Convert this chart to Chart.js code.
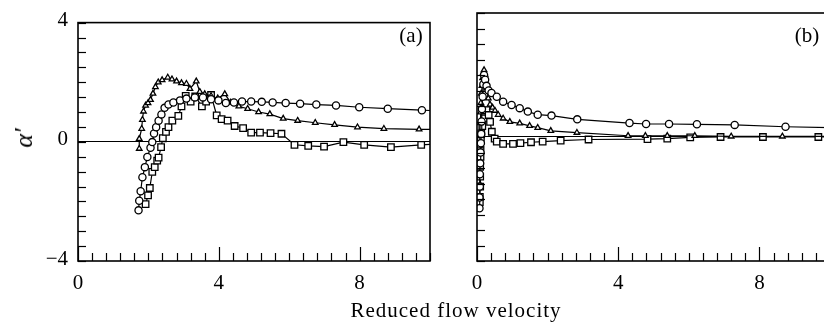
<!DOCTYPE html>
<html>
<head>
<meta charset="utf-8">
<script src="https://cdn.jsdelivr.net/npm/chart.js@4/dist/chart.umd.min.js"></script>
<style>
  html, body { margin: 0; padding: 0; background: #fff; }
  body { width: 824px; height: 327px; overflow: hidden; position: relative; }
  canvas { position: absolute; top: 0; }
  #chartA { left: 0; }
  #chartB { left: 440px; }
  .txt { position: absolute; font-family: "Liberation Serif", serif; color: #000;
         transform: translate(-50%, -50%); white-space: nowrap; }
</style>
</head>
<body>
<canvas id="chartA" width="440" height="327"></canvas>
<canvas id="chartB" width="400" height="327"></canvas>
<div class="txt" style="left:24px;top:138px;font-size:26px;font-style:italic;transform:translate(-50%,-50%) rotate(-90deg);">α′</div>
<div class="txt" style="left:411px;top:35px;font-size:21px;">(a)</div>
<div class="txt" style="left:807px;top:35px;font-size:21px;">(b)</div>
<div class="txt" style="left:456px;top:310px;font-size:21px;letter-spacing:1px;">Reduced flow velocity</div>
<script>
// axis ticks
const xLabelTicks = [0, 4, 8];
const yLabelTicks = [-4, 0, 4];

// panel (a)
const aCircleX = [1.72, 1.74, 1.78, 1.83, 1.90, 1.97, 2.06, 2.11, 2.16, 2.22, 2.29, 2.37, 2.46, 2.57, 2.71, 2.90, 3.08, 3.32, 3.55, 3.78, 3.99, 4.20, 4.43, 4.66, 4.92, 5.22, 5.53, 5.90, 6.31, 6.77, 7.33, 7.99, 8.80, 9.77, 10.8];
const aCircleY = [-2.30, -1.98, -1.66, -1.19, -0.85, -0.51, -0.20, -0.01, 0.28, 0.49, 0.71, 0.92, 1.14, 1.25, 1.32, 1.39, 1.45, 1.49, 1.49, 1.43, 1.39, 1.30, 1.32, 1.35, 1.35, 1.34, 1.32, 1.30, 1.28, 1.25, 1.22, 1.16, 1.11, 1.06, 1.02];
const aTriX = [1.74, 1.74, 1.81, 1.83, 1.86, 1.92, 1.99, 2.06, 2.13, 2.20, 2.28, 2.39, 2.55, 2.67, 2.80, 2.94, 3.08, 3.18, 3.36, 3.46, 3.60, 3.78, 3.97, 4.17, 4.34, 4.57, 4.82, 5.13, 5.45, 5.83, 6.24, 6.74, 7.29, 7.94, 8.69, 9.69, 10.8];
const aTriY = [-0.23, 0.10, 0.44, 0.74, 1.02, 1.22, 1.30, 1.41, 1.62, 1.84, 2.00, 2.07, 2.16, 2.10, 2.03, 1.97, 1.95, 1.78, 2.03, 1.68, 1.60, 1.54, 1.46, 1.60, 1.32, 1.19, 1.11, 1.00, 0.93, 0.78, 0.71, 0.64, 0.57, 0.49, 0.44, 0.42, 0.40];
const aSqX = [1.92, 1.99, 2.04, 2.11, 2.18, 2.25, 2.29, 2.36, 2.41, 2.50, 2.57, 2.68, 2.85, 2.94, 3.06, 3.20, 3.33, 3.52, 3.64, 3.78, 3.94, 4.08, 4.25, 4.45, 4.69, 4.92, 5.17, 5.47, 5.78, 6.15, 6.54, 6.99, 7.54, 8.13, 8.89, 9.75, 10.8];
const aSqY = [-2.09, -1.80, -1.55, -1.01, -0.85, -0.63, -0.53, -0.18, 0.12, 0.33, 0.49, 0.71, 0.87, 1.19, 1.54, 1.35, 1.52, 1.19, 1.35, 1.57, 0.89, 0.76, 0.71, 0.53, 0.46, 0.31, 0.31, 0.29, 0.27, -0.10, -0.14, -0.16, -0.01, -0.10, -0.18, -0.10, -0.05];

// panel (b)
const bCircleX = [0.07, 0.07, 0.08, 0.08, 0.09, 0.10, 0.11, 0.12, 0.13, 0.14, 0.16, 0.18, 0.20, 0.23, 0.27, 0.33, 0.41, 0.56, 0.74, 0.98, 1.21, 1.44, 1.72, 2.11, 2.84, 4.32, 4.79, 5.44, 6.23, 7.30, 8.74, 10.4];
const bCircleY = [-2.30, -1.95, -1.60, -1.20, -0.85, -0.50, -0.20, 0.10, 0.50, 0.90, 1.30, 1.70, 2.00, 1.85, 1.65, 1.50, 1.42, 1.30, 1.14, 1.03, 0.93, 0.82, 0.72, 0.69, 0.57, 0.45, 0.42, 0.42, 0.41, 0.39, 0.33, 0.29];
const bTriX = [0.07, 0.08, 0.09, 0.10, 0.11, 0.12, 0.14, 0.16, 0.18, 0.20, 0.23, 0.28, 0.32, 0.37, 0.44, 0.51, 0.60, 0.74, 0.93, 1.21, 1.49, 1.72, 2.09, 2.83, 4.28, 4.77, 5.39, 6.17, 7.20, 8.65, 10.4];
const bTriY = [-0.30, 0.10, 0.45, 0.80, 1.10, 1.40, 1.65, 1.90, 2.08, 2.16, 2.00, 1.57, 1.25, 1.05, 0.95, 0.85, 0.72, 0.60, 0.49, 0.44, 0.36, 0.30, 0.20, 0.14, 0.04, 0.04, 0.04, 0.04, 0.02, 0.02, 0.02];
const bSqX = [0.08, 0.08, 0.09, 0.09, 0.09, 0.10, 0.10, 0.11, 0.12, 0.15, 0.20, 0.27, 0.33, 0.37, 0.42, 0.50, 0.56, 0.74, 1.02, 1.23, 1.53, 1.86, 2.37, 3.16, 4.83, 5.39, 6.04, 6.90, 8.10, 9.67, 10.4];
const bSqY = [-2.10, -1.93, -1.60, -1.28, -0.96, -0.64, -0.42, -0.10, 0.12, 0.35, 0.60, 0.87, 0.71, 0.49, 0.17, -0.05, -0.15, -0.22, -0.22, -0.20, -0.17, -0.15, -0.12, -0.08, -0.07, -0.05, -0.01, 0.00, 0.00, 0.00, 0.00];

const FONT = { family: 'Liberation Serif', size: 21 };

function pts(xs, ys) {
    return xs.map((x, i) => ({ x: x, y: ys[i] }));
}

function series(xs, ys, style, r) {
    return {
        data: pts(xs, ys),
        showLine: true,
        borderColor: '#000',
        borderWidth: 1.2,
        pointStyle: style,
        pointRadius: r,
        pointBorderWidth: 1.3,
        pointBorderColor: '#000',
        pointBackgroundColor: '#fff'
    };
}

// inward tick marks + box frame
const framePlugin = {
    id: 'frame',
    afterDraw(chart) {
        const ctx = chart.ctx, a = chart.chartArea;
        const xs = chart.scales.x, ys = chart.scales.y;
        ctx.save();
        ctx.strokeStyle = '#000';
        ctx.lineWidth = 1.2;
        ys.ticks.forEach(t => {
            const py = Math.round(ys.getPixelForValue(t.value)) + 0.5;
            ctx.beginPath();
            ctx.moveTo(a.left, py);
            ctx.lineTo(a.left + 8, py);
            ctx.stroke();
        });
        xs.ticks.forEach(t => {
            const px = Math.round(xs.getPixelForValue(t.value)) + 0.5;
            const major = xLabelTicks.some(v => Math.abs(v - t.value) < 1e-6);
            ctx.beginPath();
            ctx.moveTo(px, a.bottom);
            ctx.lineTo(px, a.bottom - (major ? 14 : 8));
            ctx.stroke();
        });
        ctx.lineWidth = 1.6;
        ctx.strokeRect(a.left, a.top, a.right - a.left, a.bottom - a.top);
        ctx.restore();
    }
};

function makeChart(id, datasets, yWidth, rightPad, showYLabels) {
    const ctx = document.getElementById(id).getContext('2d');
    return new Chart(ctx, {
        type: 'scatter',
        data: { datasets: datasets },
        options: {
            responsive: false,
            animation: false,
            devicePixelRatio: 1,
            layout: { padding: { left: 0, right: rightPad, top: 13, bottom: 0 } },
            plugins: { legend: { display: false }, tooltip: { enabled: false } },
            scales: {
                x: {
                    type: 'linear', min: 0, max: 10,
                    grid: { display: false, drawTicks: false },
                    border: { display: false },
                    ticks: {
                        stepSize: 0.4, autoSkip: false, maxRotation: 0, padding: 10,
                        color: '#000', font: FONT,
                        callback: v => xLabelTicks.some(t => Math.abs(t - v) < 1e-6) ? String(Math.round(v)) : ''
                    },
                    afterFit: s => { s.height = 66; }
                },
                y: {
                    type: 'linear', min: -4, max: 4,
                    grid: {
                        drawTicks: false, lineWidth: 1.1,
                        color: c => (c.tick && c.tick.value === 0) ? '#000' : 'rgba(0,0,0,0)'
                    },
                    border: { display: false },
                    ticks: {
                        stepSize: 0.5, autoSkip: false, padding: 10, labelOffset: -2, display: showYLabels,
                        color: '#000', font: FONT,
                        callback: v => yLabelTicks.includes(v) ? (v < 0 ? '\u2212' + Math.abs(v) : String(v)) : ''
                    },
                    afterFit: s => { s.width = yWidth; }
                }
            }
        },
        plugins: [framePlugin]
    });
}

makeChart('chartA', [
    series(aCircleX, aCircleY, 'circle', 3.6),
    series(aTriX, aTriY, 'triangle', 3.2),
    series(aSqX, aSqY, 'rect', 4.6)
], 78, 4, true);

makeChart('chartB', [
    series(bCircleX, bCircleY, 'circle', 3.6),
    series(bTriX, bTriY, 'triangle', 3.2),
    series(bSqX, bSqY, 'rect', 4.6)
], 37, 5, false);
</script>
</body>
</html>
